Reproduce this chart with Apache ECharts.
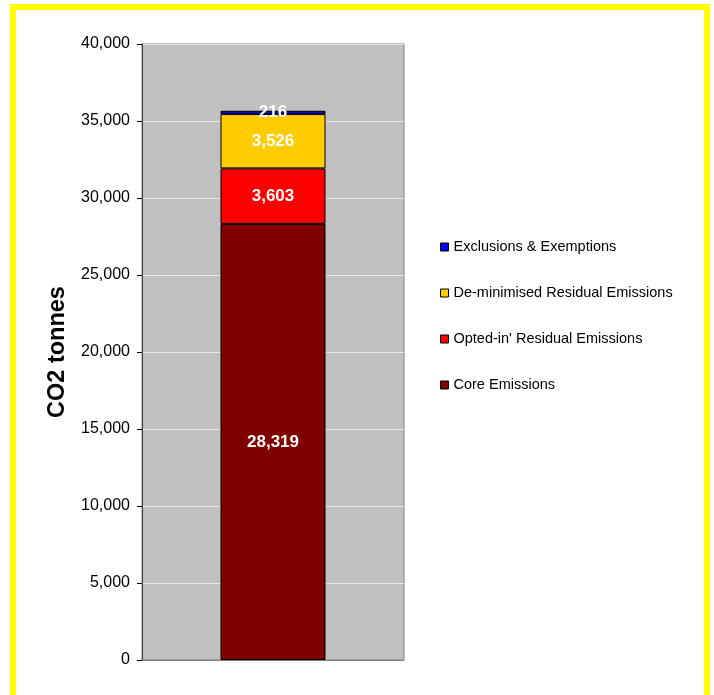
<!DOCTYPE html>
<html>
<head>
<meta charset="utf-8">
<script src="https://cdn.jsdelivr.net/npm/echarts@6/dist/echarts.min.js"></script>
<style>
  html, body { margin: 0; padding: 0; background: #fff; }
  #frame {
    position: absolute; left: 10px; top: 4px; width: 688px; height: 720px;
    border: 6px solid #FFFF00; box-sizing: content-box;
  }
  #chart { position: absolute; left: 0; top: 0; width: 714px; height: 695px; }
</style>
</head>
<body>
<div id="frame"></div>
<div id="chart"></div>
<script>
// Emission categories, stacked bottom to top
const categories = [''];
const seriesNames = [
  'Core Emissions',
  "Opted-in' Residual Emissions",
  'De-minimised Residual Emissions',
  'Exclusions & Exemptions'
];
const coreEmissions = [28319];
const optedInResidual = [3603];
const deMinimisedResidual = [3526];
const exclusionsExemptions = [216];
const seriesColors = ['#800000', '#FF0000', '#FFCC00', '#0000FF'];
const yTicks = { min: 0, max: 40000, interval: 5000 };
const legendOrder = [
  'Exclusions & Exemptions',
  'De-minimised Residual Emissions',
  "Opted-in' Residual Emissions",
  'Core Emissions'
];

const seriesValues = [coreEmissions, optedInResidual, deMinimisedResidual, exclusionsExemptions];
const fmt = v => Number(v).toLocaleString('en-US');
const font = 'Arial, "Liberation Sans", sans-serif';

const chart = echarts.init(document.getElementById('chart'), null, { renderer: 'canvas' });
chart.setOption({
  backgroundColor: 'transparent',
  animation: false,
  grid: {
    left: 142, top: 44, width: 262, height: 616,
    show: true, backgroundColor: '#C0C0C0', borderColor: '#808080', borderWidth: 1
  },
  legend: {
    orient: 'vertical', left: 440, top: 239, padding: 0,
    data: legendOrder,
    itemWidth: 8, itemHeight: 8, itemGap: 30,
    icon: 'rect',
    itemStyle: { borderColor: '#000', borderWidth: 1 },
    textStyle: { fontFamily: font, fontSize: 14.5, color: '#000', lineHeight: 16 }
  },
  xAxis: {
    type: 'category', data: categories,
    axisLine: { show: true, lineStyle: { color: '#808080', width: 1 } },
    axisTick: { show: false }, axisLabel: { show: false }
  },
  yAxis: {
    type: 'value', min: yTicks.min, max: yTicks.max, interval: yTicks.interval,
    name: 'CO2 tonnes', nameLocation: 'middle', nameRotate: 90, nameGap: 72,
    nameTextStyle: { fontFamily: font, fontSize: 23.5, fontWeight: 'bold', color: '#000' },
    axisLine: { show: true, lineStyle: { color: '#404040', width: 1 } },
    axisTick: { show: true, length: 5, lineStyle: { color: '#000' } },
    axisLabel: { fontFamily: font, fontSize: 16, color: '#000', margin: 12, formatter: fmt },
    splitLine: { show: true, lineStyle: { color: '#E6E6E6', width: 1 } }
  },
  series: seriesNames.map((name, i) => ({
    name, type: 'bar', stack: 'total', barWidth: 105,
    data: seriesValues[i],
    itemStyle: { color: seriesColors[i], borderColor: '#000', borderWidth: 1 },
    label: {
      show: true, position: 'inside', color: '#fff',
      fontFamily: font, fontSize: 17, fontWeight: 'bold',
      formatter: p => fmt(p.value)
    }
  }))
});
</script>
</body>
</html>
